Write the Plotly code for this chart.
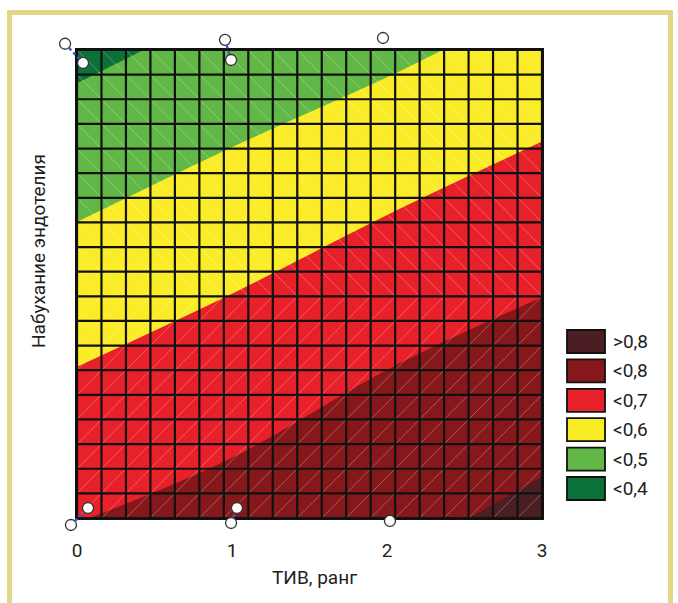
import plotly.graph_objects as go

# ---------------- data ----------------
x_vals = [0, 1, 2, 3]                      # ТИВ, ранг
y_vals = [0, 1, 2, 3]                      # Набухание эндотелия (no tick labels)
z_rows = [                                 # estimated surface values, rows = y
    [0.697, 0.734, 0.775, 0.822],
    [0.597, 0.646, 0.696, 0.739],
    [0.489, 0.541, 0.594, 0.645],
    [0.376, 0.432, 0.480, 0.536],
]
levels_start, levels_end, levels_step = 0.4, 0.8, 0.1
band_colors = ["#0a7238", "#62b846", "#fbec28", "#e8202a", "#86181b", "#4a1e23"]
legend_labels = [">0,8", "<0,8", "<0,7", "<0,6", "<0,5", "<0,4"]
legend_colors = ["#4a1e23", "#86181b", "#e8202a", "#fbec28", "#62b846", "#0a7238"]
x_ticks = [0, 1, 2, 3]
x_ticklabels = ["0", "1", "2", "3"]

# editing-handle circles seen on the picture (data coords)
handle_outer_x = [-0.077, 0.955, 1.974, -0.039, 0.994, 2.019]
handle_outer_y = [3.040, 3.065, 3.077, -0.045, -0.032, -0.019]
handle_inner_x = [0.039, 0.994, 0.071, 1.032]
handle_inner_y = [2.917, 2.936, 0.064, 0.064]
link_pairs = [(0, 0), (1, 1), (3, 2), (4, 3)]   # outer index -> inner index

n_cells = 19
FONT = "Roboto, Arial, sans-serif"
TXT = "#1e1e1e"

# ---------------- figure ----------------
W, H = 678, 603
L, R, T, B = 77, 136, 50, 85
PW, PH = W - L - R, H - T - B


def px2paper(px, py):
    return (px - L) / PW, (H - B - py) / PH


fig = go.Figure()

n = len(band_colors)
colorscale = [[i / (n - 1), c] for i, c in enumerate(band_colors)]
fig.add_trace(go.Contour(
    x=x_vals, y=y_vals, z=z_rows,
    contours=dict(start=levels_start, end=levels_end, size=levels_step,
                  coloring="fill", showlines=False),
    line=dict(width=0),
    colorscale=colorscale, showscale=False, hoverinfo="skip",
))

xmin, xmax = x_vals[0], x_vals[-1]
ymin, ymax = y_vals[0], y_vals[-1]
cw = (xmax - xmin) / n_cells
ch = (ymax - ymin) / n_cells

# faint cell diagonals
dx, dy = [], []
for r in range(n_cells):              # r counted from the top
    ytop = ymax - r * ch
    ybot = ytop - ch
    for c in range(n_cells):
        x0 = xmin + c * cw
        x1 = x0 + cw
        if r <= 9:
            dx += [x0, x1, None]
            dy += [ytop, ybot, None]
        else:
            dx += [x0, x1, None]
            dy += [ybot, ytop, None]
fig.add_trace(go.Scatter(x=dx, y=dy, mode="lines",
                         line=dict(color="rgba(255,255,255,0.28)", width=1),
                         hoverinfo="skip", showlegend=False))

# black cell grid
gx, gy = [], []
for k in range(n_cells + 1):
    xv = xmin + k * cw
    gx += [xv, xv, None]
    gy += [ymin, ymax, None]
    yv = ymin + k * ch
    gx += [xmin, xmax, None]
    gy += [yv, yv, None]
fig.add_trace(go.Scatter(x=gx, y=gy, mode="lines",
                         line=dict(color="#111111", width=2.2),
                         hoverinfo="skip", showlegend=False))


def d2p(xv, yv):
    return (xv - xmin) / (xmax - xmin), (yv - ymin) / (ymax - ymin)


shapes = []
# blue dotted connectors between handles
for oi, ii in link_pairs:
    ox, oy = d2p(handle_outer_x[oi], handle_outer_y[oi])
    ix, iy = d2p(handle_inner_x[ii], handle_inner_y[ii])
    shapes.append(dict(type="line", xref="paper", yref="paper",
                       x0=ox, y0=oy, x1=ix, y1=iy,
                       line=dict(color="#3a5cc6", width=2.5, dash="dot"),
                       layer="above"))
# handle circles (fixed pixel size)
for hx, hy in zip(handle_outer_x + handle_inner_x, handle_outer_y + handle_inner_y):
    px_, py_ = d2p(hx, hy)
    shapes.append(dict(type="circle", xref="paper", yref="paper",
                       xsizemode="pixel", ysizemode="pixel",
                       xanchor=px_, yanchor=py_,
                       x0=-5.5, x1=5.5, y0=-5.5, y1=5.5,
                       fillcolor="white", line=dict(color="#333333", width=1.3),
                       layer="above"))

# legend boxes
annotations = []
box_x0, box_x1 = 567, 605
first_cy, step_cy, box_h = 341.5, 29.4, 23
for i, (lab, col) in enumerate(zip(legend_labels, legend_colors)):
    cy = first_cy + i * step_cy
    ax0, ay0 = px2paper(box_x0, cy + box_h / 2)
    ax1, ay1 = px2paper(box_x1, cy - box_h / 2)
    shapes.append(dict(type="rect", xref="paper", yref="paper",
                       x0=ax0, y0=ay0, x1=ax1, y1=ay1,
                       fillcolor=col, line=dict(color="#111111", width=1.8)))
    tx, ty = px2paper(611, cy)
    annotations.append(dict(x=tx, y=ty, xref="paper", yref="paper",
                            text=lab, showarrow=False, xanchor="left",
                            yanchor="middle",
                            font=dict(family=FONT, size=19, color=TXT)))

# outer yellow frame
fx0, fy0 = px2paper(9.5, 12.5)
fx1, fy1 = px2paper(670.5, 640)
shapes.append(dict(type="rect", xref="paper", yref="paper",
                   x0=fx0, y0=fy0, x1=fx1, y1=fy1,
                   line=dict(color="#e2d789", width=5), fillcolor="rgba(0,0,0,0)",
                   layer="below"))

# axis titles
tx, ty = px2paper(314, 577)
annotations.append(dict(x=tx, y=ty, xref="paper", yref="paper",
                        text="ТИВ, ранг", showarrow=False,
                        xanchor="center", yanchor="middle",
                        font=dict(family=FONT, size=19, color=TXT)))
tx, ty = px2paper(38, 251)
annotations.append(dict(x=tx, y=ty, xref="paper", yref="paper",
                        text="Набухание эндотелия", showarrow=False,
                        textangle=-90, xanchor="center", yanchor="middle",
                        font=dict(family=FONT, size=19, color=TXT)))

fig.update_layout(
    width=W, height=H, autosize=False,
    margin=dict(l=L, r=R, t=T, b=B, pad=0),
    paper_bgcolor="white", plot_bgcolor="white",
    showlegend=False,
    shapes=shapes, annotations=annotations,
    xaxis=dict(range=[xmin, xmax], tickvals=x_ticks, ticktext=x_ticklabels,
               showgrid=False, zeroline=False,
               ticks="outside", ticklen=14, tickcolor="rgba(0,0,0,0)",
               tickfont=dict(family=FONT, size=19, color=TXT),
               showline=True, mirror=True, linecolor="#111111", linewidth=2,
               layer="above traces", fixedrange=True),
    yaxis=dict(range=[ymin, ymax], showticklabels=False, ticks="",
               showgrid=False, zeroline=False,
               showline=True, mirror=True, linecolor="#111111", linewidth=2,
               layer="above traces", fixedrange=True),
)

fig.write_html("out.html",
               config={"displayModeBar": False, "staticPlot": True},
               post_script="document.body.style.margin='0';"
                           "document.body.style.overflow='hidden';")
